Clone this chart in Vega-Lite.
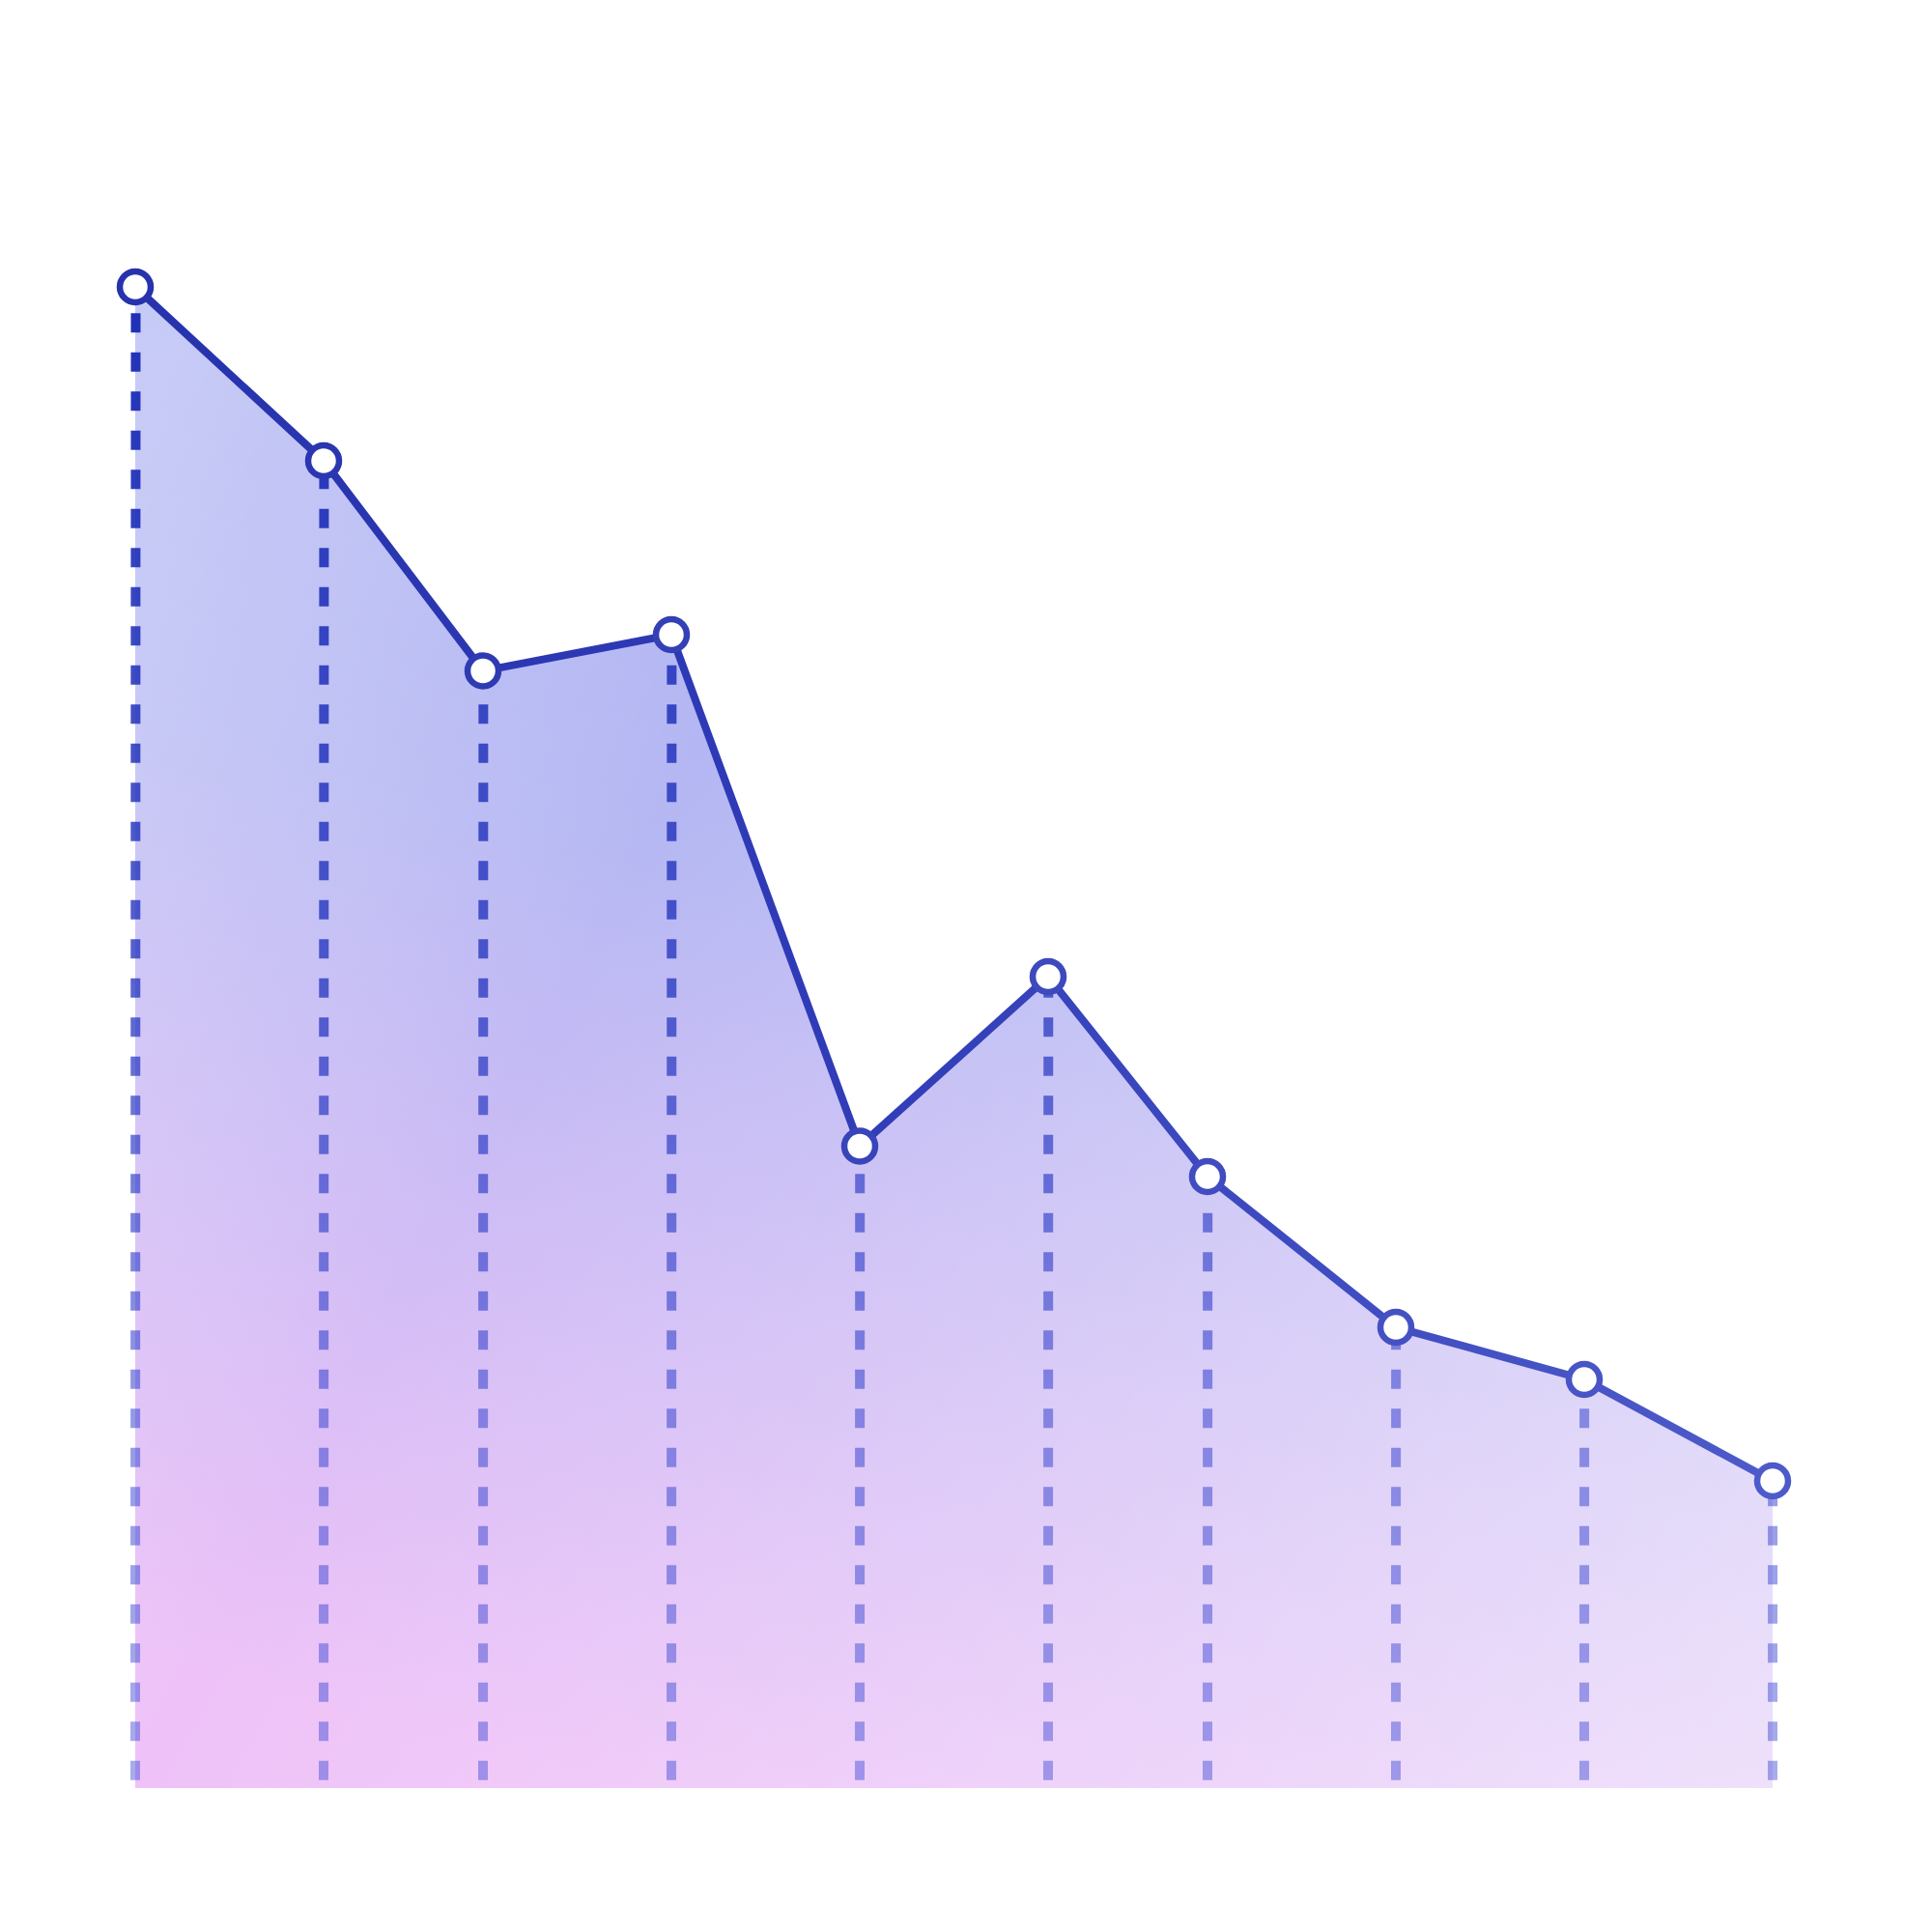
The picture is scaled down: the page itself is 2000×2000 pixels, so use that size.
{
  "$schema": "https://vega.github.io/schema/vega-lite/v6.json",
  "width": 1695,
  "height": 1800,
  "autosize": {"type": "none"},
  "padding": {"left": 140, "top": 51, "right": 165, "bottom": 149},
  "background": "white",
  "config": {"view": {"stroke": null}},
  "data": {
    "values": [
      {"t": 0, "v": 103.6},
      {"t": 13, "v": 91.6},
      {"t": 24, "v": 77.1},
      {"t": 37, "v": 79.6},
      {"t": 50, "v": 44.3},
      {"t": 63, "v": 56.0},
      {"t": 74, "v": 42.2},
      {"t": 87, "v": 31.8},
      {"t": 100, "v": 28.2},
      {"t": 113, "v": 21.2}
    ]
  },
  "encoding": {
    "x": {"field": "t", "type": "quantitative", "scale": {"domain": [0, 113], "nice": false}, "axis": null}
  },
  "layer": [
    {
      "mark": {
        "type": "area",
        "fill": {
          "gradient": "linear", "x1": 0.55, "y1": 0.1, "x2": 0.3, "y2": 1,
          "stops": [
            {"offset": 0, "color": "#acb2f2"},
            {"offset": 0.35, "color": "#b6b8f3"},
            {"offset": 1, "color": "#eec2f8"}
          ]
        }
      },
      "encoding": {
        "y": {"field": "v", "type": "quantitative", "scale": {"domain": [0, 120], "nice": false}, "axis": null}
      }
    },
    {
      "mark": {
        "type": "area",
        "fill": {
          "gradient": "linear", "x1": 0, "y1": 0.1, "x2": 1.2, "y2": 0.7,
          "stops": [
            {"offset": 0, "color": "rgba(255,255,255,0.3)"},
            {"offset": 0.3, "color": "rgba(255,255,255,0)"},
            {"offset": 1, "color": "rgba(255,255,255,0.55)"}
          ]
        }
      },
      "encoding": {
        "y": {"field": "v", "type": "quantitative", "axis": null}
      }
    },
    {
      "mark": {
        "type": "rule",
        "strokeWidth": 10,
        "strokeCap": "butt",
        "strokeDash": [20, 20.5],
        "strokeDashOffset": 32.2,
        "x2Offset": 0.5,
        "stroke": {
          "gradient": "linear", "x1": 0, "y1": 0, "x2": 0, "y2": 1,
          "stops": [
            {"offset": 0, "color": "rgba(30,46,182,1)"},
            {"offset": 0.45, "color": "rgba(42,58,192,0.8)"},
            {"offset": 0.75, "color": "rgba(58,70,208,0.55)"},
            {"offset": 1, "color": "rgba(70,80,215,0.47)"}
          ]
        }
      },
      "encoding": {
        "x2": {"field": "t"},
        "y": {"datum": 0, "type": "quantitative", "axis": null},
        "y2": {"datum": 103.6}
      }
    },
    {
      "mark": {"type": "rule", "color": "white", "strokeWidth": 13, "strokeCap": "butt"},
      "encoding": {
        "y": {"field": "v", "type": "quantitative", "axis": null},
        "y2": {"datum": 103.6}
      }
    },
    {
      "mark": {
        "type": "line",
        "strokeWidth": 8,
        "stroke": {
          "gradient": "linear", "x1": 0, "y1": 0, "x2": 1, "y2": 0,
          "stops": [
            {"offset": 0, "color": "#2633ad"},
            {"offset": 0.4, "color": "#2f3bb6"},
            {"offset": 1, "color": "#4d5ac9"}
          ]
        }
      },
      "encoding": {
        "y": {"field": "v", "type": "quantitative", "axis": null}
      }
    },
    {
      "mark": {"type": "point", "filled": true, "fill": "white", "opacity": 1, "size": 1024, "strokeWidth": 6.5},
      "encoding": {
        "y": {"field": "v", "type": "quantitative", "axis": null},
        "stroke": {
          "field": "t", "type": "quantitative",
          "scale": {"domain": [0, 113], "range": ["#2633ad", "#4d5ac9"]},
          "legend": null
        }
      }
    }
  ]
}
